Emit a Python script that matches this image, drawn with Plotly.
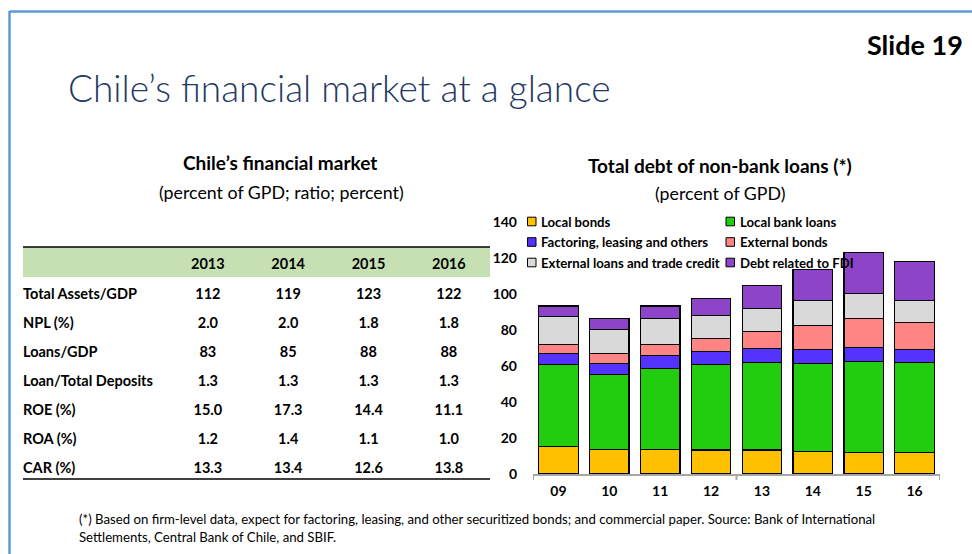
import plotly.graph_objects as go

W, H = 972, 554

# ---------------- bar chart data ----------------
years = ["09", "10", "11", "12", "13", "14", "15", "16"]
local_bonds = [15.2, 13.7, 13.7, 13.4, 13.4, 12.6, 11.9, 11.9]
local_bank_loans = [45.8, 41.7, 45.1, 47.6, 48.7, 49.0, 50.6, 50.0]
factoring = [6.1, 6.2, 7.2, 7.2, 7.8, 7.7, 8.0, 7.4]
external_bonds = [5.0, 5.5, 6.1, 7.3, 9.5, 13.4, 16.1, 14.9]
external_loans = [15.6, 13.4, 14.5, 12.8, 12.6, 13.9, 13.7, 12.4]
fdi_debt = [5.8, 6.1, 6.9, 9.2, 13.0, 17.1, 23.0, 21.5]

series_names = ["Local bonds", "Local bank loans", "Factoring, leasing and others",
                "External bonds", "External loans and trade credit", "Debt related to FDI"]
series_values = [local_bonds, local_bank_loans, factoring, external_bonds, external_loans, fdi_debt]
series_colors = ["#FFC000", "#22CC0E", "#5533FF", "#FF8585", "#D9D9D9", "#8E44C9"]

y_ticks = [0, 20, 40, 60, 80, 100, 120, 140]

# ---------------- table data ----------------
table_years = ["2013", "2014", "2015", "2016"]
table_rows = ["Total Assets/GDP", "NPL (%)", "Loans/GDP", "Loan/Total Deposits",
              "ROE (%)", "ROA (%)", "CAR (%)"]
row_decimals = [0, 1, 0, 1, 1, 1, 1]
t2013 = [112, 2.0, 83, 1.3, 15.0, 1.2, 13.3]
t2014 = [119, 2.0, 85, 1.3, 17.3, 1.4, 13.4]
t2015 = [123, 1.8, 88, 1.3, 14.4, 1.1, 12.6]
t2016 = [122, 1.8, 88, 1.3, 11.1, 1.0, 13.8]


def px(x):
    return x / W


def py(y):
    return 1 - y / H


FONT = "Lato"
fig = go.Figure()

for name, vals, col in zip(series_names, series_values, series_colors):
    fig.add_trace(go.Bar(
        x=years, y=vals, name=name,
        marker=dict(color=col, line=dict(color="#000000", width=1.3)),
        showlegend=False, xaxis="x", yaxis="y",
    ))


def fmt(v, d):
    return f"{v:.{d}f}"


cols = [table_rows] + [[fmt(v, d) for v, d in zip(col, row_decimals)]
                       for col in (t2013, t2014, t2015, t2016)]

fig.add_trace(go.Table(
    domain=dict(x=[px(15), px(490)], y=[py(484), py(250)]),
    columnwidth=[153, 80.5, 80.5, 80.5, 80.5],
    header=dict(values=[""] + table_years,
                fill=dict(color="rgba(0,0,0,0)"),
                line=dict(width=0, color="rgba(0,0,0,0)"),
                align=["left", "center"],
                font=dict(family=FONT, size=14.5, color="#000000", weight="bold"),
                height=30),
    cells=dict(values=cols,
               fill=dict(color="rgba(0,0,0,0)"),
               line=dict(width=0, color="rgba(0,0,0,0)"),
               align=["left", "center"],
               font=dict(family=FONT, size=14.5, color="#000000", weight="bold"),
               height=29),
))

shapes = []
# slide border
shapes.append(dict(type="line", xref="paper", yref="paper", x0=px(9.5), x1=1.0,
                   y0=py(11.5), y1=py(11.5), line=dict(color="#5B9BD5", width=2.5)))
shapes.append(dict(type="line", xref="paper", yref="paper", x0=px(9.5), x1=px(9.5),
                   y0=py(11), y1=0, line=dict(color="#5B9BD5", width=2.5)))
# table header band + rules
shapes.append(dict(type="rect", xref="paper", yref="paper", x0=px(23), x1=px(490),
                   y0=py(277), y1=py(247), fillcolor="#C6E0B4", line=dict(width=0),
                   layer="below"))
shapes.append(dict(type="line", xref="paper", yref="paper", x0=px(23), x1=px(490),
                   y0=py(247), y1=py(247), line=dict(color="#000000", width=1.5)))
shapes.append(dict(type="line", xref="paper", yref="paper", x0=px(23), x1=px(490),
                   y0=py(479), y1=py(479), line=dict(color="#000000", width=1.5)))
# x-axis tick marks at group boundaries
for xb in (-0.5, 3.5, 7.5):
    shapes.append(dict(type="line", xref="x", yref="paper", x0=xb, x1=xb,
                       y0=py(474), y1=py(480), line=dict(color="#A6A6A6", width=2)))

# manual legend
for i, (name, col) in enumerate(zip(series_names, series_colors)):
    c, r = i % 2, i // 2
    mx = 527.5 if c == 0 else 726
    cy = 221.5 + r * 20.5
    shapes.append(dict(type="rect", xref="paper", yref="paper",
                       x0=px(mx), x1=px(mx + 8.5), y0=py(cy + 4.3), y1=py(cy - 4.3),
                       fillcolor=col, line=dict(color="#000000", width=1)))

annotations = []
for i, name in enumerate(series_names):
    c, r = i % 2, i // 2
    tx = 539 if c == 0 else 738
    cy = 221.5 + r * 20.5
    annotations.append(dict(text=name, xref="paper", yref="paper", x=px(tx), y=py(cy),
                            xanchor="left", yanchor="middle", showarrow=False,
                            font=dict(family=FONT, size=13.2, color="#000000", weight="bold")))


def ann(text, x, y, size, weight="normal", color="#000000", xanchor="center"):
    annotations.append(dict(text=text, xref="paper", yref="paper", x=px(x), y=py(y),
                            xanchor=xanchor, yanchor="middle", showarrow=False,
                            font=dict(family=FONT, size=size, color=color, weight=weight)))


ann("Slide 19", 965, 44, 27, "bold", xanchor="right")
ann("Chile’s financial market at a glance", 66, 87, 37, 300, "#1F3864", xanchor="left")
ann("Chile’s financial market", 280, 163, 19, "bold")
ann("(percent of GPD; ratio; percent)", 281, 192, 17.8)
ann("Total debt of non-bank loans (*)", 720, 165, 19, "bold")
ann("(percent of GPD)", 720, 193, 17.8)
ann("(*) Based on firm-level data, expect for factoring, leasing, and other securitized bonds; "
    "and commercial paper. Source: Bank of International", 77, 519, 13.2, xanchor="left")
ann("Settlements, Central Bank of Chile, and SBIF.", 77, 537, 13.2, xanchor="left")

fig.update_layout(
    width=W, height=H,
    margin=dict(l=0, r=0, t=0, b=0, pad=0, autoexpand=False),
    paper_bgcolor="#FFFFFF", plot_bgcolor="rgba(0,0,0,0)",
    barmode="stack", bargap=0.224,
    showlegend=False,
    xaxis=dict(domain=[px(533), px(940)], type="category", range=[-0.5, 7.5],
               showline=True, linecolor="#A6A6A6", linewidth=2, ticks="",
               showgrid=False, zeroline=False, ticklabelstandoff=3,
               tickfont=dict(family=FONT, size=14, color="#000000", weight="bold"),
               anchor="y", fixedrange=True),
    yaxis=dict(domain=[py(474), py(222.3)], range=[0, 140], tickvals=y_ticks,
               showline=False, showgrid=False, zeroline=False, ticks="",
               ticklabelstandoff=15,
               tickfont=dict(family=FONT, size=14, color="#000000", weight="bold"),
               anchor="x", fixedrange=True),
    shapes=shapes,
    annotations=annotations,
)

fig.write_html("out.html",
               config={"displayModeBar": False},
               post_script="document.body.style.margin='0';document.body.style.overflow='hidden';")
